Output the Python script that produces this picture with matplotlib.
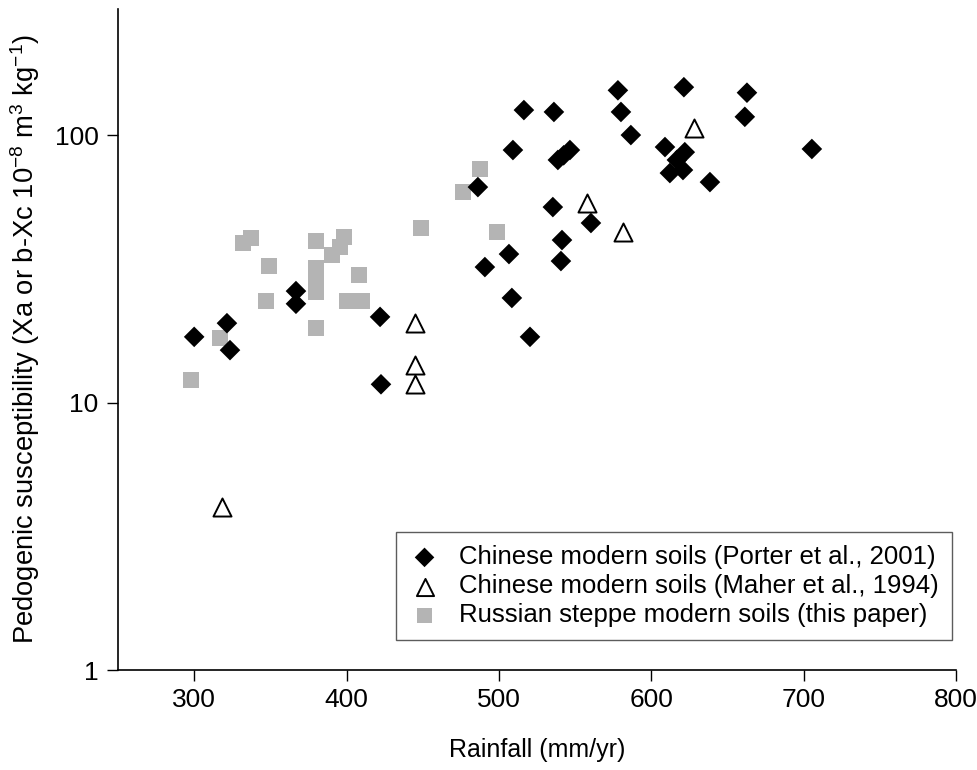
import matplotlib
matplotlib.use("Agg")
import matplotlib.pyplot as plt
from matplotlib.ticker import FixedLocator, FixedFormatter, NullLocator

plt.rcParams['font.family'] = ['Liberation Sans', 'DejaVu Sans']
plt.rcParams['mathtext.fontset'] = 'custom'
plt.rcParams['mathtext.rm'] = 'Liberation Sans'
plt.rcParams['mathtext.it'] = 'Liberation Sans:italic'
plt.rcParams['mathtext.bf'] = 'Liberation Sans:bold'

# Chinese modern soils (Porter et al., 2001)
porter_x = [300, 321.5, 323.5, 366.8, 366.8, 422, 422.6, 486.2, 509.2, 516.4,
            536.1, 538.7, 542.5, 546.6, 535.4, 541.4, 540.7, 560.4, 506.6, 490.8,
            508.5, 520.4, 578.1, 580.1, 586.6, 621.4, 662.8, 661.4, 705.4, 609,
            622, 616.8, 612.2, 620.8, 638.5]
porter_y = [17.6, 19.8, 15.7, 26.1, 23.4, 20.9, 11.7, 63.9, 87.9, 124,
            122, 80.7, 84, 87.9, 53.8, 40.5, 33.8, 46.9, 35.9, 32.1,
            24.6, 17.6, 147, 122, 100, 151, 144, 117, 88.7, 90.2,
            86.3, 80.7, 72.1, 74, 66.7]

# Chinese modern soils (Maher et al., 1994)
maher_x = [444.9, 444.9, 444.9, 318, 557.8, 581.4, 628]
maher_y = [19.8, 13.8, 11.7, 4.07, 55.7, 43.4, 106]

# Russian steppe modern soils (this paper)
russian_x = [297.9, 316.9, 332, 337.3, 349, 347.1, 379.9, 379.9, 379.9, 379.9,
             390.4, 395.7, 398.3, 408.1, 400.3, 410.1, 379.9, 448.8, 487.5, 476.4,
             498.7]
russian_y = [12.1, 17.4, 39.5, 41.2, 32.4, 23.9, 40.2, 31.8, 28.7, 25.9,
             35.6, 38.1, 41.6, 30, 23.9, 23.9, 19, 44.9, 74.6, 61.2,
             43.4]

x_ticks = [300, 400, 500, 600, 700, 800]
y_ticks = [1, 10, 100]
y_tick_labels = ['1', '10', '100']

fig = plt.figure(figsize=(9.78, 7.7), dpi=100)
ax = fig.add_axes([118/978, 100/770, (956-118)/978, (670-9)/770])

ax.scatter(russian_x, russian_y, marker='s', s=11.5**2, color='#b4b4b4',
           edgecolors='none', label='Russian steppe modern soils (this paper)', zorder=2)
ax.scatter(porter_x, porter_y, marker='D', s=10.5**2, color='black',
           edgecolors='none', label='Chinese modern soils (Porter et al., 2001)', zorder=3)
ax.scatter(maher_x, maher_y, marker='^', s=13**2, facecolors='white',
           edgecolors='black', linewidths=1.4,
           label='Chinese modern soils (Maher et al., 1994)', zorder=4)

ax.set_yscale('log')
ax.set_xlim(250, 800)
ax.set_ylim(1, 296)
ax.xaxis.set_major_locator(FixedLocator(x_ticks))
ax.yaxis.set_major_locator(FixedLocator(y_ticks))
ax.yaxis.set_major_formatter(FixedFormatter(y_tick_labels))
ax.yaxis.set_minor_locator(NullLocator())

for side in ['top', 'right']:
    ax.spines[side].set_visible(False)
for side in ['left', 'bottom']:
    ax.spines[side].set_linewidth(1.2)

ax.tick_params(axis='both', direction='out', length=8, width=1, labelsize=19)
ax.tick_params(axis='x', pad=5)
ax.tick_params(axis='y', pad=6)

ax.set_xlabel('Rainfall (mm/yr)', fontsize=18, labelpad=19)
ax.set_ylabel('Pedogenic susceptibility (Xa or b-Xc 10$^{\\mathrm{-8}}$ m$^{\\mathrm{3}}$ kg$^{\\mathrm{-1}}$)',
              fontsize=19.7, labelpad=9)

handles, labels = ax.get_legend_handles_labels()
order = [1, 2, 0]
leg = ax.legend([handles[i] for i in order], [labels[i] for i in order],
                loc='lower right', bbox_to_anchor=(0.995, 0.045),
                fontsize=18.5, frameon=True, fancybox=False, edgecolor='#333333',
                borderpad=0.5, labelspacing=0.2, handletextpad=0.75,
                markerscale=0.95, handlelength=1.2, borderaxespad=0)
leg.get_frame().set_linewidth(1.0)

fig.savefig('out.png', dpi=100)
